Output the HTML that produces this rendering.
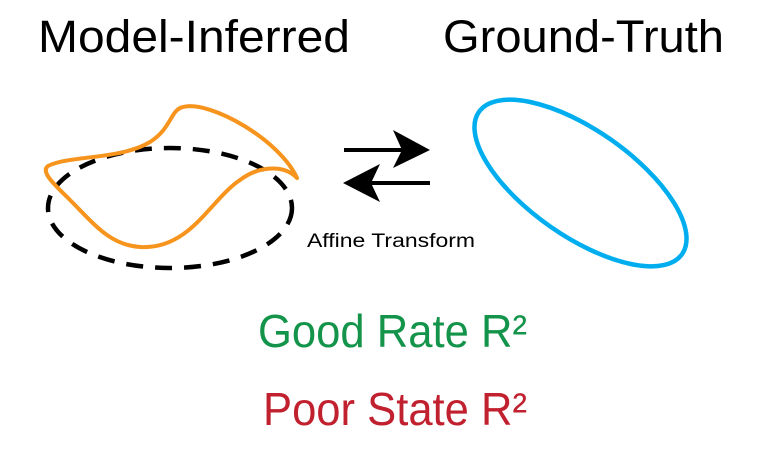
<!DOCTYPE html>
<html><head><meta charset="utf-8"><style>
html,body{margin:0;padding:0;background:#fff;}
svg{display:block;font-family:"Liberation Sans",sans-serif;}
</style></head><body>
<svg width="766" height="459" viewBox="0 0 766 459">
  <text x="38" y="52" font-size="45" textLength="312" lengthAdjust="spacingAndGlyphs" fill="#000">Model-Inferred</text>
  <text x="443" y="52" font-size="45" textLength="281" lengthAdjust="spacingAndGlyphs" fill="#000">Ground-Truth</text>
  <ellipse cx="170" cy="208" rx="122" ry="60" fill="none" stroke="#000" stroke-width="4.5" stroke-dasharray="17,12"/>
  <path d="M297,178 C280,140 210,100 183,107 C170,110 172,128 150,142 C120,160 70,155 48,166 C40,172 55,185 70,200 C95,225 110,245 140,247 C190,250 210,200 240,180 C260,165 285,165 297,178 Z" fill="none" stroke="#f7941d" stroke-width="4" stroke-linejoin="round"/>
  <line x1="344" y1="150" x2="405" y2="150" stroke="#000" stroke-width="4"/>
  <path d="M430,150 L393,130 L402,150 L393,168 Z" fill="#000"/>
  <line x1="370" y1="183" x2="430" y2="183" stroke="#000" stroke-width="4"/>
  <path d="M343,183 L380,164 L371,183 L380,202 Z" fill="#000"/>
  <text x="307" y="247" font-size="19" textLength="168" lengthAdjust="spacingAndGlyphs" fill="#000">Affine Transform</text>
  <ellipse cx="580.5" cy="183" rx="124" ry="53" transform="rotate(35 580.5 183)" fill="none" stroke="#00aeef" stroke-width="4.5"/>
  <text x="258" y="347" font-size="46" textLength="269" lengthAdjust="spacingAndGlyphs" fill="#13944a">Good Rate R²</text>
  <text x="263" y="425" font-size="46" textLength="264" lengthAdjust="spacingAndGlyphs" fill="#c1202f">Poor State R²</text>
</svg>
</body></html>
